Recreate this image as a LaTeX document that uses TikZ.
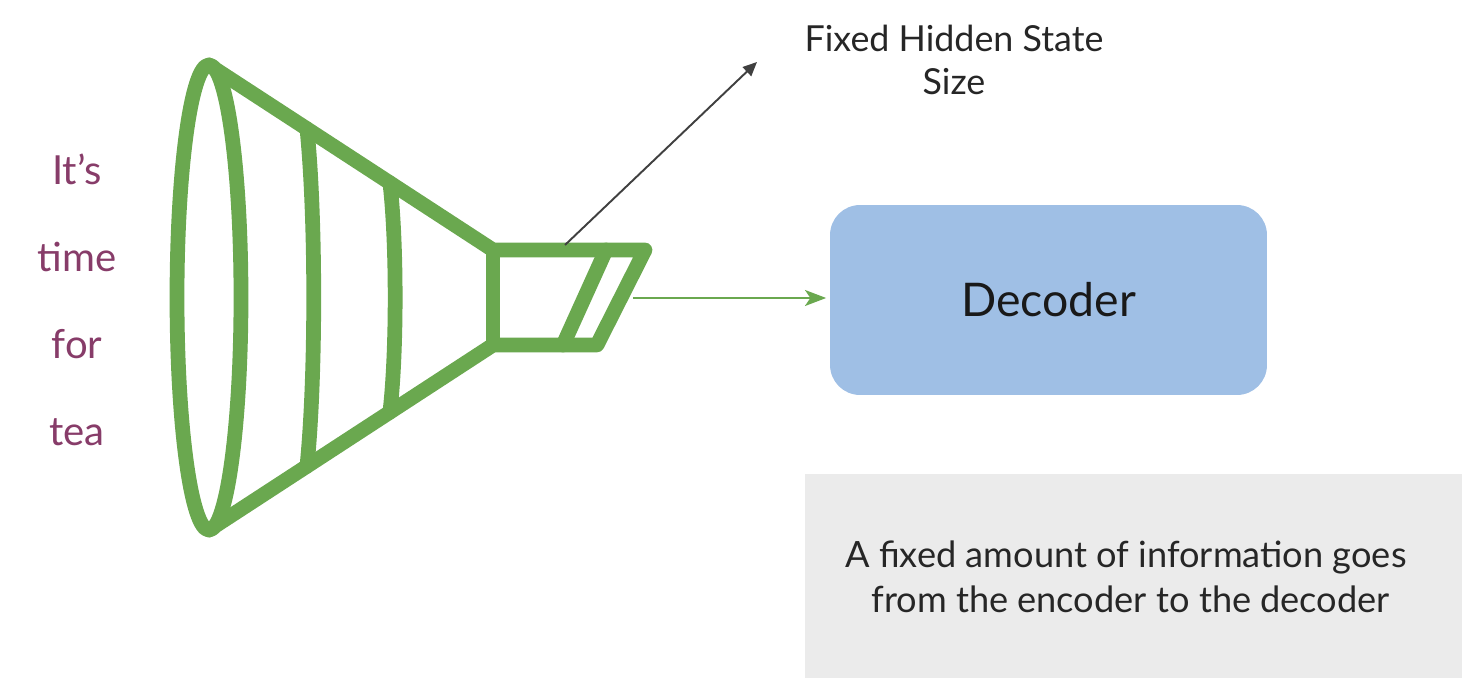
\documentclass[tikz,border=0pt]{standalone}
\usepackage{fontspec}
\setmainfont{Lato}
\usetikzlibrary{arrows.meta,calc}
\definecolor{encgreen}{HTML}{6AA84F}
\definecolor{decblue}{HTML}{9FBFE5}
\definecolor{infogray}{HTML}{EBEBEB}
\definecolor{wordpurple}{RGB}{135,60,105}
\definecolor{darkline}{HTML}{404040}
\tikzset{
  funnel/.style={draw=encgreen, line width=8.4pt, line join=round, line cap=round},
  wordlabel/.style={text=wordpurple, anchor=base, inner sep=0pt, font=\fontsize{22.8}{26}\selectfont},
  decbox/.style={fill=decblue, rounded corners=0.6cm, minimum width=8.74cm, minimum height=3.8cm, inner sep=0pt, font=\fontsize{26.4}{30}\selectfont, text=black!90},
  infobox/.style={fill=infogray, inner sep=0pt},
  infotext/.style={align=center, font=\fontsize{20.6}{25.5}\selectfont, text=black!85, inner sep=0pt},
  toptext/.style={align=center, font=\fontsize{20.4}{24.4}\selectfont, text=black!85, inner sep=0pt},
  greenarrow/.style={draw=encgreen, line width=1.7pt, -{Stealth[length=12pt, width=9pt, inset=3pt]}},
  darkarrow/.style={draw=darkline, line width=1.1pt, -{Triangle[length=8pt, width=7pt]}}
}
\begin{document}
\begin{tikzpicture}[x=0.02cm, y=-0.02cm]
  \useasboundingbox (0,0) rectangle (1462,678);
  % words
  \node[wordlabel] (w1) at (77,185) {It’s};
  \node[wordlabel] (w2) at (77,272) {time};
  \node[wordlabel] (w3) at (77,358) {for};
  \node[wordlabel] (w4) at (77,445) {tea};
  % funnel geometry
  \coordinate (eT) at (209,65);
  \coordinate (eB) at (209,530);
  \coordinate (bTL) at (493,250);
  \coordinate (bBL) at (493,345);
  \coordinate (bTR) at (645,250);
  \coordinate (bBR) at (597,345);
  \coordinate (iT) at (606,250);
  \coordinate (iB) at (563,345);
  \draw[funnel] (209,297.5) ellipse [x radius=0.64cm, y radius=4.65cm];
  \draw[funnel] (eT) -- (bTL) -- (bTR) -- (bBR) -- (bBL) -- (eB);
  \draw[funnel] (bTL) -- (bBL);
  \draw[funnel] (iT) -- (iB);
  \coordinate (a3T) at ($(eT)!0.345!(bTL)$);
  \coordinate (a3B) at ($(eB)!0.345!(bBL)$);
  \coordinate (a4B) at ($(eB)!0.637!(bBL)$);
  \coordinate (a4T) at ($(eT)!0.637!(bTL)$);
  \draw[funnel] (a3T) .. controls +(9,90) and +(9,-90) .. (a3B);
  \draw[funnel] (a4T) .. controls +(7,60) and +(7,-60) .. (a4B);
  % decoder
  \node[decbox] (dec) at (1048.5,300) {Decoder};
  \coordinate (enc) at (633,298);
  \draw[greenarrow] (enc) -- ([xshift=-2pt]enc -| dec.west);
  % hidden state label
  \node[toptext] (hs) at (954,60) {Fixed Hidden State\\Size};
  \coordinate (hsStart) at (565,245);
  \coordinate (hsEnd) at (757,62);
  \draw[darkarrow] (hsStart) -- (hsEnd);
  % info box
  \node[infobox, minimum width=13.14cm, minimum height=4.08cm] (info) at (1133.5,576) {};
  \node[infotext] (infot) at (1126,577) {A fixed amount of information goes\\\ from the encoder to the decoder};
\end{tikzpicture}
\end{document}
